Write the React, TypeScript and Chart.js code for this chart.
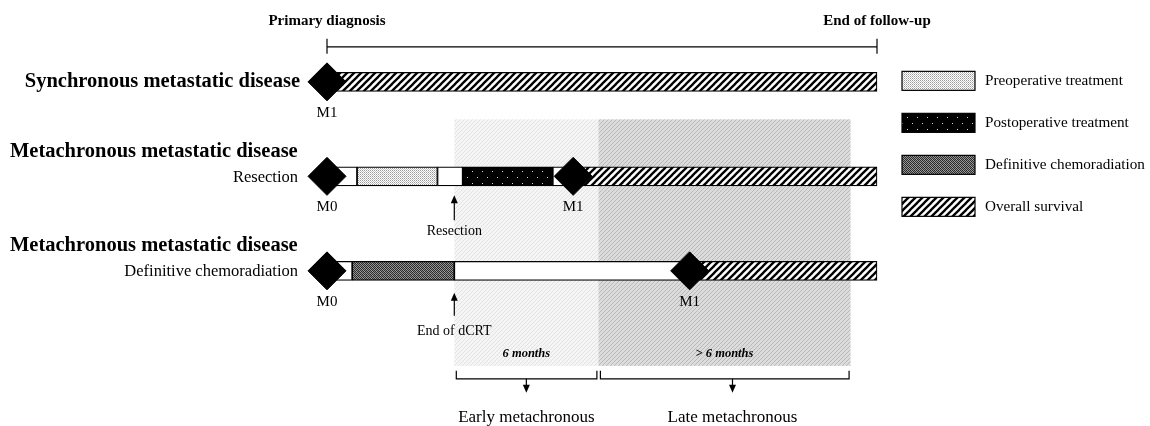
import React, { useEffect, useRef } from 'react';
import { Chart, registerables } from 'chart.js';

Chart.register(...registerables);

const FONT = "'Liberation Serif', 'Times New Roman', serif";

// ---- data (time axis in months since primary diagnosis) ----
const ROW_KEYS = ['synchronous', 'resection', 'dcrt'];
const ROW_TITLES = ['Synchronous metastatic disease', 'Metachronous metastatic disease', 'Metachronous metastatic disease'];
const ROW_SUBLABELS = ['', 'Resection', 'Definitive chemoradiation'];
const HEADER_LABELS = ['Primary diagnosis', 'End of follow-up'];

const FOLLOW_UP_END = 22.9;
const EVENT_MONTH = 5.3; // resection / end of dCRT
const EARLY_WINDOW = 6;
const LATE_WINDOW_END = 21.8;
const WINDOW_LABELS = ['6 months', '> 6 months'];
const CLASS_LABELS = ['Early metachronous', 'Late metachronous'];
const EVENT_ROWS = [1, 2];
const EVENT_LABELS = ['Resection', 'End of dCRT'];

const FREE_ROWS = ['resection', 'resection', 'resection', 'dcrt', 'dcrt'];
const FREE_START = [0, 4.6, 9.4, 0, 5.3];
const FREE_END = [1.25, 5.65, 10.25, 1.05, 15.1];

const PREOP_ROWS = ['resection'];
const PREOP_START = [1.25];
const PREOP_END = [4.6];

const POSTOP_ROWS = ['resection'];
const POSTOP_START = [5.65];
const POSTOP_END = [9.4];

const DCRT_ROWS = ['dcrt'];
const DCRT_START = [1.05];
const DCRT_END = [5.3];

const OS_ROWS = ['synchronous', 'resection', 'dcrt'];
const OS_START = [0, 10.25, 15.1];
const OS_END = [22.9, 22.9, 22.9];

const STAGE_ROWS = ['synchronous', 'resection', 'resection', 'dcrt', 'dcrt'];
const STAGE_MONTH = [0, 0, 10.25, 0, 15.1];
const STAGE_LABELS = ['M1', 'M0', 'M1', 'M0', 'M1'];

const LEGEND_LABELS = ['Preoperative treatment', 'Postoperative treatment', 'Definitive chemoradiation', 'Overall survival'];

function segments(rows: string[], start: number[], end: number[]) {
  return rows.map((r, i) => ({ x: [start[i], end[i]], y: r }));
}

function makePattern(w: number, h: number, paint: (g: CanvasRenderingContext2D) => void) {
  const c = document.createElement('canvas');
  c.width = w;
  c.height = h;
  const g = c.getContext('2d')!;
  paint(g);
  return g.createPattern(c, 'repeat')!;
}

function diag(g: CanvasRenderingContext2D, size: number, color: string, width: number) {
  g.strokeStyle = color;
  g.lineWidth = width;
  for (const k of [-size, 0, size]) {
    g.beginPath();
    g.moveTo(k - 1, size + 1);
    g.lineTo(k + size + 1, -1);
    g.stroke();
  }
}

function px(g: CanvasRenderingContext2D, x: number, y: number, c: string) {
  g.fillStyle = c;
  g.fillRect(x, y, 1, 1);
}

export default function App() {
  const ref = useRef<HTMLCanvasElement | null>(null);

  useEffect(() => {
    document.body.style.margin = '0';
    const canvas = ref.current!;

    const pPreop = makePattern(2, 2, (g) => {
      g.fillStyle = '#fff';
      g.fillRect(0, 0, 2, 2);
      px(g, 0, 0, '#9a9a9a');
      px(g, 1, 1, '#c4c4c4');
    });
    const pPostop = makePattern(10, 12, (g) => {
      g.fillStyle = '#000';
      g.fillRect(0, 0, 10, 12);
      px(g, 2, 3, '#d8d8d8');
      px(g, 7, 9, '#d8d8d8');
    });
    const pDcrt = makePattern(4, 4, (g) => {
      g.fillStyle = '#2c2c2c';
      g.fillRect(0, 0, 4, 4);
      px(g, 1, 0, '#9a9a9a');
      px(g, 3, 0, '#8a8a8a');
      px(g, 0, 1, '#8c8c8c');
      px(g, 2, 1, '#a0a0a0');
      px(g, 1, 2, '#888');
      px(g, 3, 2, '#9c9c9c');
      px(g, 0, 3, '#a4a4a4');
      px(g, 2, 3, '#7c7c7c');
    });
    const pOS = makePattern(7, 7, (g) => {
      g.fillStyle = '#fff';
      g.fillRect(0, 0, 7, 7);
      diag(g, 7, '#000', 2.3);
    });
    const pEarly = makePattern(4, 4, (g) => {
      g.fillStyle = '#f5f5f5';
      g.fillRect(0, 0, 4, 4);
      diag(g, 4, '#e2e2e2', 1);
    });
    const pLate = makePattern(4, 4, (g) => {
      g.fillStyle = '#dcdcdc';
      g.fillRect(0, 0, 4, 4);
      diag(g, 4, '#b8b8b8', 1);
    });

    const text = (ctx: CanvasRenderingContext2D, s: string, x: number, y: number, font: string, align: CanvasTextAlign) => {
      ctx.font = font;
      ctx.textAlign = align;
      ctx.textBaseline = 'middle';
      ctx.fillStyle = '#000';
      ctx.fillText(s, x, y);
    };
    const line = (ctx: CanvasRenderingContext2D, x1: number, y1: number, x2: number, y2: number) => {
      ctx.beginPath();
      ctx.moveTo(x1, y1);
      ctx.lineTo(x2, y2);
      ctx.stroke();
    };
    const arrow = (ctx: CanvasRenderingContext2D, x: number, from: number, tip: number) => {
      const dir = tip > from ? 1 : -1;
      ctx.lineWidth = 1.2;
      line(ctx, x, from, x, tip - dir * 6);
      ctx.beginPath();
      ctx.moveTo(x, tip);
      ctx.lineTo(x - 3.5, tip - dir * 8);
      ctx.lineTo(x + 3.5, tip - dir * 8);
      ctx.closePath();
      ctx.fill();
    };

    const annotate = {
      id: 'annotate',
      beforeDatasetsDraw(chart: any) {
        const { ctx, scales } = chart;
        const xs = scales.x;
        const ys = scales.y;
        const r2 = ys.getPixelForValue(1);
        const r3 = ys.getPixelForValue(2);
        const top = r2 - 57;
        const bottom = r3 + 95;
        const a = xs.getPixelForValue(EVENT_MONTH);
        const b = xs.getPixelForValue(EVENT_MONTH + EARLY_WINDOW);
        const c = xs.getPixelForValue(LATE_WINDOW_END);
        ctx.save();
        ctx.fillStyle = pEarly;
        ctx.fillRect(a, top, b - a, bottom - top);
        ctx.fillStyle = pLate;
        ctx.fillRect(b, top, c - b, bottom - top);
        ctx.restore();
      },
      afterDatasetsDraw(chart: any) {
        const { ctx, scales } = chart;
        const xs = scales.x;
        const ys = scales.y;
        const rows = ROW_KEYS.map((_, i) => ys.getPixelForValue(i));
        const x0 = xs.getPixelForValue(0);
        const xe = xs.getPixelForValue(FOLLOW_UP_END);
        ctx.save();
        ctx.strokeStyle = '#000';
        ctx.fillStyle = '#000';

        // header timeline
        const r1 = rows[0];
        ctx.lineWidth = 1.2;
        line(ctx, x0, r1 - 35, xe, r1 - 35);
        line(ctx, x0, r1 - 43, x0, r1 - 28);
        line(ctx, xe, r1 - 43, xe, r1 - 28);
        text(ctx, HEADER_LABELS[0], x0, r1 - 61, `bold 15px ${FONT}`, 'center');
        text(ctx, HEADER_LABELS[1], xe, r1 - 61, `bold 15px ${FONT}`, 'center');

        // row titles / sublabels
        text(ctx, ROW_TITLES[0], x0 - 27, rows[0], `bold 20.5px ${FONT}`, 'right');
        for (let i = 1; i < 3; i++) {
          text(ctx, ROW_TITLES[i], 10, rows[i] - 25, `bold 20.5px ${FONT}`, 'left');
          text(ctx, ROW_SUBLABELS[i], x0 - 29, rows[i] + 1, `16.5px ${FONT}`, 'right');
        }

        // stage labels under diamonds
        const meta = chart.getDatasetMeta(chart.data.datasets.length - 1);
        meta.data.forEach((pt: any, i: number) => {
          text(ctx, STAGE_LABELS[i], pt.x, pt.y + 31, `15px ${FONT}`, 'center');
        });

        // event arrows
        const ex = xs.getPixelForValue(EVENT_MONTH);
        const tipOff = [19, 22];
        const tailOff = [44, 45];
        const labOff = [55, 60];
        EVENT_ROWS.forEach((r, i) => {
          arrow(ctx, ex, rows[r] + tailOff[i], rows[r] + tipOff[i]);
          text(ctx, EVENT_LABELS[i], ex, rows[r] + labOff[i], `14px ${FONT}`, 'center');
        });

        // windows: labels, brackets, arrows
        const r3 = rows[2];
        const edges = [EVENT_MONTH, EVENT_MONTH + EARLY_WINDOW, LATE_WINDOW_END].map((v) => xs.getPixelForValue(v));
        const arrowShift = [0, 8];
        for (let i = 0; i < 2; i++) {
          const l = edges[i];
          const r = edges[i + 1];
          const mid = (l + r) / 2;
          text(ctx, WINDOW_LABELS[i], mid, r3 + 83, `italic bold 12.5px ${FONT}`, 'center');
          ctx.lineWidth = 1.2;
          const bl = l + 2;
          const br = r - 1.5;
          ctx.beginPath();
          ctx.moveTo(bl, r3 + 100);
          ctx.lineTo(bl, r3 + 108);
          ctx.lineTo(br, r3 + 108);
          ctx.lineTo(br, r3 + 100);
          ctx.stroke();
          const am = mid + arrowShift[i];
          arrow(ctx, am, r3 + 108, r3 + 122);
          text(ctx, CLASS_LABELS[i], am, r3 + 147, `17px ${FONT}`, 'center');
        }

        // legend
        const pats = [pPreop, pPostop, pDcrt, pOS];
        const lx = xe + 25;
        LEGEND_LABELS.forEach((lab, i) => {
          const cy = r1 - 1 + i * 42;
          ctx.fillStyle = pats[i];
          ctx.fillRect(lx, cy - 9.5, 73, 19);
          ctx.lineWidth = 1.2;
          ctx.strokeStyle = '#000';
          ctx.strokeRect(lx, cy - 9.5, 73, 19);
          text(ctx, lab, lx + 83, cy + 0.5, `15.2px ${FONT}`, 'left');
        });
        ctx.restore();
      },
    };

    const barBase = {
      type: 'bar' as const,
      grouped: false,
      barThickness: 19,
      borderWidth: 1.2,
      borderColor: '#000',
      borderSkipped: false,
      clip: false as any,
      order: 1,
    };

    const chart = new Chart(canvas, {
      type: 'bar',
      data: {
        labels: ROW_KEYS,
        datasets: [
          { ...barBase, label: 'Follow-up', data: segments(FREE_ROWS, FREE_START, FREE_END) as any, backgroundColor: '#fff' },
          { ...barBase, label: LEGEND_LABELS[0], data: segments(PREOP_ROWS, PREOP_START, PREOP_END) as any, backgroundColor: pPreop as any },
          { ...barBase, label: LEGEND_LABELS[1], data: segments(POSTOP_ROWS, POSTOP_START, POSTOP_END) as any, backgroundColor: pPostop as any },
          { ...barBase, label: LEGEND_LABELS[2], data: segments(DCRT_ROWS, DCRT_START, DCRT_END) as any, backgroundColor: pDcrt as any },
          { ...barBase, label: LEGEND_LABELS[3], data: segments(OS_ROWS, OS_START, OS_END) as any, backgroundColor: pOS as any },
          {
            type: 'line' as const,
            label: 'Metastatic status',
            data: STAGE_ROWS.map((r, i) => ({ x: STAGE_MONTH[i], y: r })) as any,
            showLine: false,
            pointStyle: 'rectRot',
            pointRadius: 19,
            pointHoverRadius: 19,
            pointBackgroundColor: '#000',
            pointBorderColor: '#000',
            pointBorderWidth: 1,
            clip: false as any,
            order: 0,
          } as any,
        ],
      },
      options: {
        indexAxis: 'y',
        responsive: false,
        animation: false,
        events: [],
        layout: { padding: { left: 327, right: 273, top: 34.6, bottom: 107.9 } },
        scales: {
          x: { type: 'linear', min: 0, max: FOLLOW_UP_END, display: false },
          y: { type: 'category', labels: ROW_KEYS, offset: true, display: false },
        },
        plugins: {
          legend: { display: false },
          tooltip: { enabled: false },
        },
      },
      plugins: [annotate],
    });

    return () => chart.destroy();
  }, []);

  return (
    <div style={{ width: 1150, height: 426, background: '#fff' }}>
      <canvas ref={ref} width={1150} height={426} style={{ display: 'block', width: 1150, height: 426 }} />
    </div>
  );
}
